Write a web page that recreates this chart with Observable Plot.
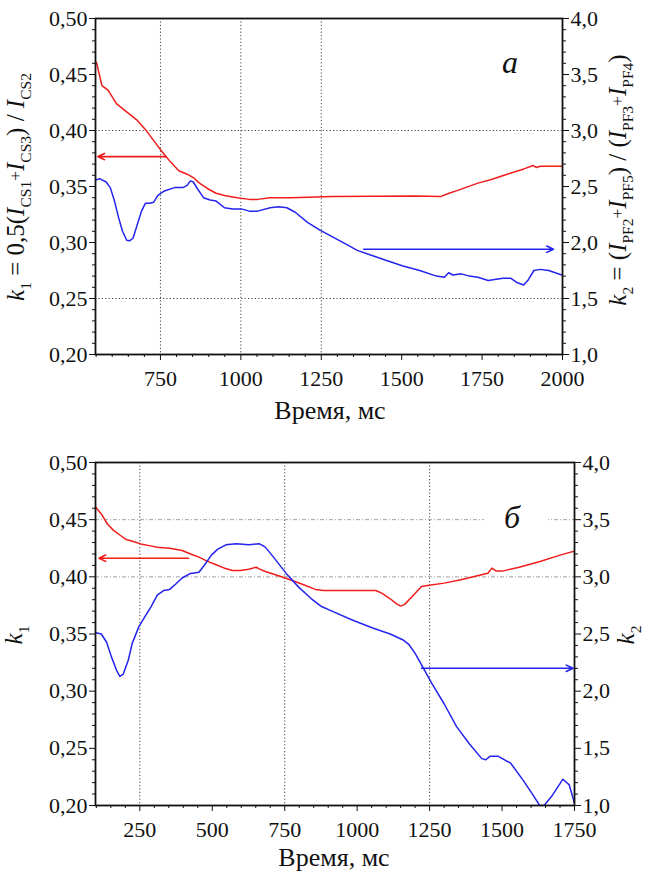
<!DOCTYPE html>
<html><head><meta charset="utf-8">
<script src="https://cdn.jsdelivr.net/npm/d3@7"></script>
<script src="https://cdn.jsdelivr.net/npm/@observablehq/plot@0.6"></script>
<style>body{margin:0;background:#fff;} svg{display:block;} svg, svg text{font-family:"Liberation Serif","Times New Roman","DejaVu Serif",serif !important;}</style>
</head><body><div id="chart"></div>
<script>
// ---------- data: panel а ----------
const topRedT  = [551,568,587,613,639,678,703,729,755,781,807,833,852,871,897,923,949,988,1026,1052,1091,1156,1285,1415,1543,1621,1647,1672,1737,1776,1828,1880,1909,1918,1931,1998];
const topRedK1 = [0.461,0.440,0.436,0.424,0.418,0.409,0.401,0.391,0.381,0.372,0.364,0.361,0.358,0.353,0.348,0.344,0.342,0.340,0.3385,0.3385,0.340,0.340,0.341,0.3412,0.3415,0.341,0.344,0.3463,0.353,0.356,0.361,0.3657,0.3687,0.367,0.368,0.368];
const topBlueT  = [551,561,581,594,607,620,632,645,654,665,678,691,703,716,729,742,762,794,820,833,843,852,865,884,904,923,949,975,1001,1026,1052,1091,1117,1143,1169,1207,1246,1285,1324,1362,1401,1453,1504,1556,1608,1633,1646,1659,1685,1711,1737,1769,1789,1815,1840,1860,1879,1892,1911,1931,1957,1998];
const topBlueK2 = [2.56,2.57,2.54,2.49,2.37,2.22,2.10,2.02,2.015,2.04,2.16,2.28,2.35,2.35,2.36,2.42,2.46,2.49,2.49,2.51,2.55,2.54,2.48,2.40,2.38,2.37,2.31,2.30,2.30,2.28,2.28,2.31,2.32,2.31,2.27,2.18,2.11,2.05,1.99,1.93,1.89,1.84,1.79,1.75,1.70,1.69,1.73,1.71,1.72,1.70,1.69,1.66,1.67,1.68,1.68,1.64,1.62,1.66,1.75,1.76,1.75,1.71];
const topRedArrow  = {t1: 768, t2: 555, k1: 0.3767};
const topBlueArrow = {t1: 1382, t2: 1972, k2: 1.94};

// ---------- data: panel б ----------
const botRedT  = [98,117,138,160,181,203,224,253,282,310,353,396,425,454,482,511,540,569,597,626,652,662,683,726,769,813,856,884,970,1064,1085,1114,1135,1150,1164,1193,1222,1243,1300,1358,1415,1451,1465,1480,1501,1559,1631,1703,1750];
const botRedK1 = [0.4608,0.455,0.4462,0.4404,0.4366,0.4326,0.4311,0.4288,0.4273,0.4259,0.425,0.423,0.420,0.4172,0.4137,0.4108,0.4078,0.4055,0.4055,0.4067,0.4084,0.407,0.4047,0.4012,0.3974,0.3933,0.389,0.3881,0.3881,0.3881,0.3858,0.3808,0.3765,0.3744,0.3759,0.3837,0.3916,0.3924,0.3945,0.3974,0.4009,0.4032,0.4076,0.405,0.405,0.4084,0.4134,0.4192,0.4225];
const botBlueT  = [98,117,135,152,170,181,193,210,224,246,267,289,310,332,353,375,396,425,454,475,497,518,547,583,626,662,683,712,755,798,841,877,913,985,1056,1114,1157,1178,1200,1229,1257,1300,1343,1387,1430,1444,1458,1487,1530,1573,1602,1630,1645,1674,1710,1732,1750];
const botBlueK2 = [2.51,2.50,2.43,2.30,2.18,2.13,2.15,2.27,2.42,2.56,2.65,2.74,2.84,2.88,2.89,2.94,2.99,3.03,3.04,3.11,3.19,3.24,3.28,3.29,3.28,3.29,3.26,3.17,3.03,2.91,2.81,2.74,2.70,2.62,2.55,2.50,2.45,2.41,2.33,2.20,2.07,1.89,1.69,1.54,1.41,1.40,1.43,1.43,1.37,1.22,1.11,1.00,1.00,1.09,1.23,1.18,1.02];
const botRedArrow  = {t1: 418, t2: 109, k1: 0.4163};
const botBlueArrow = {t1: 1222, t2: 1745, k2: 2.20};

// ---------- axes ----------
const k1Ticks = [0.20,0.25,0.30,0.35,0.40,0.45,0.50];
const k2Ticks = [1.0,1.5,2.0,2.5,3.0,3.5,4.0];
const topXTicks = [750,1000,1250,1500,1750,2000];
const botXTicks = [250,500,750,1000,1250,1500,1750];

const RED = "#f01c1c", BLUE = "#2424ee";
const FONT = "'Liberation Serif', 'Times New Roman', 'DejaVu Serif', serif";
const toK1 = k2 => 0.2 + (k2 - 1) * 0.1;
const toK2 = k1 => 1 + (k1 - 0.2) * 10;
const comma = (v, n) => v.toFixed(n).replace(".", ",");
const minorOf = (lo, hi, step, majors) => d3.range(Math.round((hi - lo) / step) + 1).map(i => +(lo + i * step).toFixed(4)).filter(v => !majors.some(m => Math.abs(m - v) < 1e-9));

function richText(svg, x, y, segs, size, rotate) {
  const t = svg.append("text")
    .attr("transform", `translate(${x},${y})` + (rotate ? ` rotate(${rotate})` : ""))
    .attr("text-anchor", "middle").attr("dy", "0.35em")
    .style("font-family", FONT).attr("font-size", size).attr("fill", "#111");
  let shift = 0;
  for (const s of segs) {
    const sp = t.append("tspan").text(s.t);
    let target = 0;
    if (s.sub) { sp.attr("font-size", size * 0.62); target = size * 0.28; }
    if (s.sup) { sp.attr("font-size", size * 0.7); target = -size * 0.12; }
    if (s.i) sp.attr("font-style", "italic");
    sp.attr("dy", target - shift); shift = target;
  }
  return t;
}

function panel(o) {
  const [x0, x1] = o.xDomain;
  const xMinor = minorOf(Math.ceil(x0 / 50) * 50, x1, 50, o.xTicks);
  const k1Minor = minorOf(0.2, 0.5, 0.01, k1Ticks);
  const k2Minor = minorOf(1, 4, 0.1, k2Ticks).map(toK1);
  const red = o.redT.map((t, i) => ({t, v: o.redV[i]}));
  const blue = o.blueT.map((t, i) => ({t, v: toK1(o.blueV[i])}));
  const svgEl = Plot.plot({
    width: 651, height: o.height,
    marginTop: o.mt, marginBottom: o.mb, marginLeft: o.ml, marginRight: o.mr,
    style: {fontFamily: FONT, fontSize: "22px", color: "#111", background: "white", overflow: "visible"},
    x: {domain: o.xDomain},
    y: {domain: [0.2, 0.5]},
    marks: [
      Plot.gridX(o.gridX, {stroke: "#222", strokeOpacity: 0.85, strokeDasharray: "1.2,2.2", strokeWidth: 1}),
      Plot.gridY(o.gridY, {stroke: o.gridYColor, strokeOpacity: o.gridYOpacity, strokeDasharray: o.gridYDash, strokeWidth: 1}),
      Plot.line(red, {x: "t", y: "v", stroke: RED, strokeWidth: 1.5, clip: true}),
      Plot.line(blue, {x: "t", y: "v", stroke: BLUE, strokeWidth: 1.5, clip: true}),
      Plot.arrow([o.redArrow], {x1: "t1", x2: "t2", y1: "k1", y2: "k1", stroke: RED, strokeWidth: 1.6, headLength: 7, headAngle: 50}),
      Plot.arrow([o.blueArrow], {x1: "t1", x2: "t2", y1: d => toK1(d.k2), y2: d => toK1(d.k2), stroke: BLUE, strokeWidth: 1.6, headLength: 7, headAngle: 50}),
      Plot.axisX(o.xTicks, {anchor: "bottom", tickSize: 6, tickPadding: 10, tickFormat: d => String(d), label: null, fontSize: 22}),
      Plot.axisX(xMinor, {anchor: "bottom", tickSize: 3, tickFormat: () => "", label: null}),
      Plot.axisY(k1Ticks, {anchor: "left", tickSize: 6, tickPadding: 2, tickFormat: d => comma(d, 2), label: null, fontSize: 22}),
      Plot.axisY(k1Minor, {anchor: "left", tickSize: 3, tickFormat: () => "", label: null}),
      Plot.axisY(k2Ticks.map(toK1), {anchor: "right", tickSize: 6, tickPadding: 2, tickFormat: d => comma(toK2(d), 1), label: null, fontSize: 22}),
      Plot.axisY(k2Minor, {anchor: "right", tickSize: 3, tickFormat: () => "", label: null}),
      Plot.frame({stroke: "#111", strokeWidth: 1.8})
    ]
  });
  const svg = d3.select(svgEl);
  if (o.gap) svg.append("rect").attr("x", o.gap[0]).attr("y", o.gap[1]).attr("width", o.gap[2]).attr("height", o.gap[3]).attr("fill", "white");
  svg.append("text").attr("x", o.letterXY[0]).attr("y", o.letterXY[1]).attr("text-anchor", "middle")
    .style("font-family", FONT).attr("font-style", "italic").attr("font-size", 32).attr("fill", "#111").text(o.letter);
  svg.append("text").attr("x", o.xTitleXY[0]).attr("y", o.xTitleXY[1]).attr("text-anchor", "middle")
    .style("font-family", FONT).attr("font-size", 26).attr("fill", "#111").text("Время, мс");
  richText(svg, o.yTitleL[0], o.yTitleL[1], o.yTitleLSegs, 25, -90);
  richText(svg, o.yTitleR[0], o.yTitleR[1], o.yTitleRSegs, 25, -90);
  return svgEl;
}

const panelA = panel({
  height: 440, mt: 18, mb: 86, ml: 95, mr: 89,
  xDomain: [548, 2000], xTicks: topXTicks,
  redT: topRedT, redV: topRedK1, blueT: topBlueT, blueV: topBlueK2,
  redArrow: topRedArrow, blueArrow: topBlueArrow,
  gridX: [750, 1000, 1250], gridY: [0.40, 0.25], gridYColor: "#222", gridYOpacity: 0.85, gridYDash: "1.2,2.2",
  letter: "а", letterXY: [510, 73],
  xTitleXY: [330, 419],
  yTitleL: [24, 187], yTitleLSegs: [{t: "k", i: true}, {t: "1", sub: true}, {t: " = 0,5("}, {t: "I", i: true}, {t: "CS1", sub: true}, {t: "+", sup: true}, {t: "I", i: true}, {t: "CS3", sub: true}, {t: ") / "}, {t: "I", i: true}, {t: "CS2", sub: true}],
  yTitleR: [626, 180], yTitleRSegs: [{t: "k", i: true}, {t: "2", sub: true}, {t: " = ("}, {t: "I", i: true}, {t: "PF2", sub: true}, {t: "+", sup: true}, {t: "I", i: true}, {t: "PF5", sub: true}, {t: ") / ("}, {t: "I", i: true}, {t: "PF3", sub: true}, {t: "+", sup: true}, {t: "I", i: true}, {t: "PF4", sub: true}, {t: ")"}]
});

const panelB = panel({
  height: 435, mt: 22, mb: 70, ml: 95, mr: 77,
  xDomain: [97, 1750], xTicks: botXTicks,
  redT: botRedT, redV: botRedK1, blueT: botBlueT, blueV: botBlueK2,
  redArrow: botRedArrow, blueArrow: botBlueArrow,
  gridX: [250, 750, 1250], gridY: [0.45, 0.40], gridYColor: "#999", gridYOpacity: 0.9, gridYDash: "4,2,1,2",
  letter: "б", letterXY: [512, 88], gap: [484, 74, 64, 10],
  xTitleXY: [334, 426],
  yTitleL: [22, 195], yTitleLSegs: [{t: "k", i: true}, {t: "1", sub: true}],
  yTitleR: [634, 195], yTitleRSegs: [{t: "k", i: true}, {t: "2", sub: true}]
});

document.getElementById("chart").append(panelA, panelB);
</script>
</body></html>
